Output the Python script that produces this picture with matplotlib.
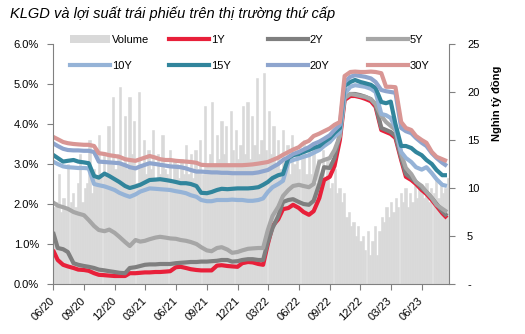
import numpy as np
import pandas as pd
import matplotlib
matplotlib.use('Agg')
from matplotlib import pyplot as plt
import matplotlib.dates as mdates
from matplotlib.ticker import FuncFormatter, FixedLocator
from matplotlib.lines import Line2D
from matplotlib.patches import Patch

plt.rcParams['font.family'] = ['Liberation Sans', 'DejaVu Sans']

# semi-monthly points (1st and 15th), Jun 2020 -> Aug 2023
dates = pd.date_range('2020-06-01', periods=78, freq='SMS')

y1 = [0.85, 0.60, 0.48, 0.44, 0.40, 0.36, 0.35, 0.33, 0.27, 0.23,
      0.22, 0.21, 0.20, 0.20, 0.20, 0.27, 0.27, 0.28, 0.29, 0.29,
      0.30, 0.30, 0.31, 0.32, 0.42, 0.43, 0.40, 0.37, 0.35, 0.34,
      0.34, 0.34, 0.46, 0.47, 0.45, 0.44, 0.43, 0.52, 0.55, 0.54,
      0.50, 0.48, 1.00, 1.45, 1.62, 1.87, 1.90, 1.98, 1.90, 1.80,
      1.73, 1.82, 2.15, 2.60, 2.68, 2.95, 3.60, 4.60, 4.70, 4.70,
      4.67, 4.63, 4.57, 4.43, 3.85, 3.80, 3.75, 3.65, 3.10, 2.68,
      2.60, 2.50, 2.35, 2.25, 2.10, 1.95, 1.77, 1.65]
y2 = [1.30, 0.90, 0.87, 0.80, 0.52, 0.48, 0.45, 0.43, 0.40, 0.36,
      0.34, 0.32, 0.30, 0.28, 0.27, 0.40, 0.42, 0.45, 0.48, 0.49,
      0.49, 0.50, 0.50, 0.50, 0.52, 0.53, 0.54, 0.55, 0.55, 0.56,
      0.56, 0.57, 0.58, 0.60, 0.60, 0.56, 0.57, 0.60, 0.62, 0.62,
      0.60, 0.60, 1.05, 1.40, 1.70, 2.05, 2.10, 2.12, 2.05, 2.00,
      1.98, 2.08, 2.50, 2.92, 2.90, 3.15, 3.75, 4.65, 4.75, 4.75,
      4.72, 4.68, 4.62, 4.48, 3.90, 3.85, 3.80, 3.70, 3.15, 2.75,
      2.65, 2.55, 2.40, 2.30, 2.15, 2.00, 1.82, 1.70]
y5 = [2.04, 1.96, 1.92, 1.88, 1.80, 1.76, 1.72, 1.60, 1.45, 1.35,
      1.32, 1.36, 1.28, 1.18, 1.05, 0.95, 1.10, 1.06, 1.08, 1.12,
      1.16, 1.18, 1.16, 1.14, 1.13, 1.10, 1.08, 1.05, 1.00, 0.92,
      0.84, 0.82, 0.90, 0.92, 0.86, 0.78, 0.80, 0.84, 0.88, 0.89,
      0.90, 0.90, 1.35, 1.70, 1.93, 2.20, 2.35, 2.45, 2.48, 2.45,
      2.42, 2.50, 3.05, 3.10, 3.15, 3.35, 3.70, 4.65, 4.75, 4.73,
      4.70, 4.68, 4.62, 4.50, 4.20, 4.05, 3.95, 3.85, 3.25, 2.90,
      2.75, 2.55, 2.45, 2.30, 2.15, 1.98, 1.88, 1.80]
y10 = [3.06, 3.00, 2.94, 2.92, 2.91, 2.90, 2.90, 2.89, 2.50, 2.47,
       2.44, 2.40, 2.35, 2.28, 2.22, 2.18, 2.24, 2.31, 2.35, 2.39,
       2.38, 2.37, 2.36, 2.35, 2.32, 2.30, 2.27, 2.22, 2.18, 2.10,
       2.07, 2.07, 2.10, 2.10, 2.10, 2.11, 2.10, 2.10, 2.08, 2.08,
       2.10, 2.14, 2.30, 2.42, 2.50, 2.58, 3.05, 3.10, 3.14, 3.18,
       3.22, 3.28, 3.35, 3.45, 3.55, 3.68, 3.80, 4.75, 4.93, 4.97,
       4.95, 4.93, 4.88, 4.80, 4.25, 4.22, 4.15, 3.90, 3.30, 3.15,
       3.05, 2.92, 2.86, 2.92, 2.77, 2.62, 2.48, 2.45]
y15 = [3.23, 3.15, 3.06, 3.08, 3.10, 3.06, 3.04, 3.02, 2.70, 2.66,
       2.76, 2.70, 2.62, 2.55, 2.45, 2.40, 2.44, 2.48, 2.54, 2.60,
       2.61, 2.62, 2.60, 2.58, 2.55, 2.52, 2.52, 2.50, 2.45, 2.28,
       2.27, 2.30, 2.35, 2.38, 2.37, 2.38, 2.39, 2.39, 2.39, 2.40,
       2.42, 2.48, 2.55, 2.65, 2.72, 2.75, 3.15, 3.22, 3.25, 3.30,
       3.35, 3.40, 3.45, 3.55, 3.65, 3.78, 3.90, 4.95, 5.05, 5.10,
       5.05, 5.02, 4.98, 4.90, 4.55, 4.52, 4.56, 4.00, 3.45, 3.45,
       3.40, 3.30, 3.22, 3.10, 3.00, 2.85, 2.72, 2.72]
y20 = [3.52, 3.45, 3.38, 3.35, 3.34, 3.34, 3.33, 3.33, 3.30, 3.06,
       3.05, 3.04, 3.03, 3.02, 2.97, 2.92, 2.89, 2.94, 2.98, 3.02,
       3.00, 2.98, 2.96, 2.94, 2.93, 2.92, 2.89, 2.85, 2.81, 2.81,
       2.80, 2.79, 2.79, 2.78, 2.78, 2.77, 2.77, 2.77, 2.77, 2.77,
       2.79, 2.82, 2.85, 2.92, 3.00, 3.10, 3.17, 3.25, 3.30, 3.36,
       3.42, 3.50, 3.56, 3.63, 3.72, 3.85, 3.98, 5.05, 5.18, 5.22,
       5.20, 5.18, 5.14, 5.05, 4.85, 4.82, 4.80, 4.78, 3.90, 3.82,
       3.77, 3.65, 3.53, 3.45, 3.27, 3.15, 3.03, 2.95]
y30 = [3.68, 3.62, 3.55, 3.52, 3.50, 3.49, 3.48, 3.48, 3.45, 3.27,
       3.25, 3.22, 3.20, 3.18, 3.12, 3.10, 3.08, 3.12, 3.16, 3.20,
       3.16, 3.12, 3.10, 3.10, 3.08, 3.07, 3.06, 3.05, 3.03, 2.98,
       2.97, 2.97, 2.97, 2.97, 2.97, 2.97, 2.97, 2.97, 2.98, 2.99,
       3.01, 3.03, 3.05, 3.10, 3.16, 3.23, 3.30, 3.36, 3.42, 3.52,
       3.58, 3.70, 3.76, 3.82, 3.89, 3.98, 4.05, 5.20, 5.30, 5.31,
       5.30, 5.30, 5.31, 5.30, 5.27, 4.93, 4.93, 4.92, 4.05, 3.90,
       3.85, 3.70, 3.60, 3.53, 3.30, 3.18, 3.12, 3.07]

# weekly trading volume (nghin ty dong), weeks from 01/06/2020
volume = [8.0, 8.5, 11.5, 7.5, 9.0,
          8.0, 12.5, 8.5, 9.5,
          8.0, 10.5, 13.5, 8.5, 10.0,
          10.5, 15.0, 9.5, 12.0,
          11.0, 15.5, 11.5, 13.5,
          11.5, 16.5, 12.5, 19.5, 12.0,
          13.5, 20.5, 12.5, 17.5,
          12.0, 19.5, 13.5, 17.0,
          10.5, 20.0, 12.5, 15.0,
          11.5, 14.0, 12.0, 16.0, 11.0,
          13.5, 11.5, 15.5, 12.0,
          11.5, 14.0, 10.5, 13.0, 12.5,
          11.0, 13.0, 11.5, 14.5,
          11.5, 13.5, 11.0, 14.0,
          12.0, 15.0, 11.5, 18.5, 12.5,
          13.5, 19.0, 12.5, 15.5,
          13.0, 17.0, 13.5, 16.5,
          12.5, 18.0, 14.0, 16.0, 13.0,
          14.5, 18.5, 13.5, 19.0,
          13.0, 17.5, 14.5, 21.5, 13.5,
          15.0, 22.0, 14.0, 18.0,
          13.5, 16.5, 12.5, 15.0,
          12.0, 16.0, 12.5, 14.5,
          11.5, 15.5, 12.5, 14.0, 12.0,
          13.0, 15.0, 11.5, 14.0,
          11.5, 14.5, 10.5, 13.0,
          11.5, 14.0, 11.0, 13.0, 10.0,
          10.5, 12.0, 9.5, 10.0,
          8.5, 9.5, 7.0, 7.5, 6.0,
          6.5, 5.0, 6.0, 4.5,
          5.0, 3.5, 5.5, 3.0,
          4.5, 6.0, 3.0, 5.5, 7.0,
          6.5, 8.0, 7.0, 8.5,
          7.5, 9.0, 8.0, 9.5,
          8.5, 10.0, 8.0, 9.5,
          8.5, 10.5, 9.0, 10.0, 9.5,
          9.0, 10.5, 8.5, 10.0,
          9.5, 11.0, 9.0, 10.5, 9.5,
          10.0, 11.0]
weeks = pd.date_range('2020-06-01', periods=len(volume), freq='7D')

labels = ['1Y', '2Y', '5Y', '10Y', '15Y', '20Y', '30Y']
colors = ['#E8203A', '#7F7F7F', '#A6A6A6', '#95B3D7', '#31859C', '#8EA5CE', '#D99694']
series = [y1, y2, y5, y10, y15, y20, y30]
bar_color = '#D9D9D9'
grey = '#808080'

fig = plt.figure(figsize=(5.25, 3.34), dpi=100)
ax = fig.add_axes([53/525, 50/334, 396/525, 240/334])
ax2 = ax.twinx()

ax2.bar(mdates.date2num(weeks), volume, width=7, align='edge', color=bar_color,
        edgecolor=bar_color, linewidth=0.4)
ax.set_zorder(ax2.get_zorder() + 1)
ax.patch.set_visible(False)

for vals, col in zip(series, colors):
  ax.plot(dates, vals, color=col, lw=3, solid_capstyle='butt', solid_joinstyle='round')

ax.set_ylim(0, 6)
ax2.set_ylim(0, 25)
ax.set_xlim(mdates.date2num(pd.Timestamp('2020-06-01')), mdates.date2num(pd.Timestamp('2023-08-21')))
ax.yaxis.set_major_locator(FixedLocator([0, 1, 2, 3, 4, 5, 6]))
ax.yaxis.set_major_formatter(FuncFormatter(lambda v, p: '%.1f%%' % v))
ax2.yaxis.set_major_locator(FixedLocator([0, 5, 10, 15, 20, 25]))
ax2.yaxis.set_major_formatter(FuncFormatter(lambda v, p: '-' if v == 0 else '%d' % v))

qticks = pd.date_range('2020-06-01', '2023-06-01', freq='3MS')
ax.set_xticks(mdates.date2num(qticks))
ax.set_xticklabels([d.strftime('%m/%y') for d in qticks], rotation=45, ha='right',
                   va='center', rotation_mode='anchor', fontsize=8)

for a in (ax, ax2):
  a.spines['top'].set_visible(False)
  for s in a.spines.values():
    s.set_color(grey)
ax.spines['right'].set_visible(False)
ax2.spines['left'].set_visible(False)
ax2.spines['bottom'].set_visible(False)
ax.tick_params(axis='y', length=4, color=grey, pad=6, labelsize=8)
ax.tick_params(axis='x', length=4, color=grey, pad=7, labelsize=8)
ax2.tick_params(axis='y', length=4, color=grey, pad=9, labelsize=8)

fig.text(497/525, 1 - 103/334, 'Nghìn tỷ đồng', rotation=90, ha='center', va='center',
         fontsize=8, fontweight='bold')
fig.text(10/525, 1 - 14/334, 'KLGD và lợi suất trái phiếu trên thị trường thứ cấp',
         ha='left', va='center', fontsize=10.5, style='italic',
         family=['Liberation Sans Narrow', 'Liberation Sans', 'DejaVu Sans'])

# legend: 4 columns of 2 entries
handles = [Patch(facecolor=bar_color, edgecolor='none')] + \
          [Line2D([], [], color=c, lw=3) for c in colors]
names = ['Volume'] + labels
xs = [70, 169, 268, 368]
for k in range(4):
  idx = [k, k + 4]
  leg = fig.legend([handles[i] for i in idx], [names[i] for i in idx],
                   loc='upper left', bbox_to_anchor=(xs[k]/525, 1 - 35/334),
                   frameon=False, fontsize=8, handlelength=3.6, handletextpad=0.15,
                   labelspacing=1.45, borderpad=0, borderaxespad=0)

plt.savefig('out.png', dpi=100)
